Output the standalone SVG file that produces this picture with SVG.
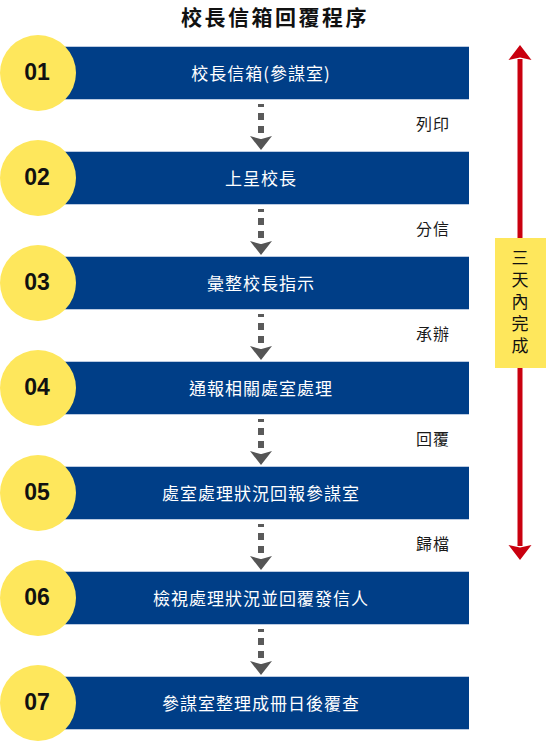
<svg xmlns="http://www.w3.org/2000/svg" width="547" height="742" viewBox="0 0 547 742">
<style>
.edge{fill:#bccbe1}
.bar{fill:#003e87}
.circ{fill:#fee75c}
.num{font-family:"Liberation Sans",Arial,sans-serif;font-weight:700;font-size:23px;fill:#111;text-anchor:middle}
.btxt{font-family:"Noto Sans CJK TC","Noto Sans",sans-serif;font-size:17px;fill:#fff;text-anchor:middle;letter-spacing:1px}
.lbl{font-family:"Noto Sans CJK TC","Noto Sans",sans-serif;font-size:16px;fill:#1a1a1a;text-anchor:middle;letter-spacing:1px}
.title{font-family:"Noto Sans CJK TC","Noto Sans",sans-serif;font-size:21px;font-weight:700;fill:#111;text-anchor:middle;letter-spacing:2.5px}
.vtxt{font-family:"Noto Sans CJK TC","Noto Sans",sans-serif;font-size:17px;fill:#111;text-anchor:middle;writing-mode:vertical-rl;letter-spacing:5px}
.dash{stroke:#5a5a5a;stroke-width:6;stroke-dasharray:7 6;stroke-dashoffset:4;fill:none;marker-end:url(#chev)}
.red{stroke:#c9000f;stroke-width:5;fill:none;marker-start:url(#redhead);marker-end:url(#redhead)}
</style>
<defs>
<marker id="chev" markerUnits="userSpaceOnUse" viewBox="-1 -12 20 24" markerWidth="20" markerHeight="24" refX="0" refY="0" orient="auto" overflow="visible">
<path d="M3,-11 L6,-0.5 L6,0.5 L3,11 L17,0 Z" fill="#555"/>
</marker>
<marker id="redhead" markerUnits="userSpaceOnUse" viewBox="-2 -12 18 24" markerWidth="18" markerHeight="24" refX="0" refY="0" orient="auto-start-reverse" overflow="visible">
<path d="M-1,-11.5 L1.5,0 L-1,11.5 L14,0 Z" fill="#c9000f"/>
</marker>
</defs>
<rect width="547" height="742" fill="#fff"/>
<text class="title" x="275" y="25">校長信箱回覆程序</text>

<g id="connectors">
<line class="dash" x1="261" y1="104" x2="261" y2="133"/>
<line class="dash" x1="261" y1="209" x2="261" y2="238"/>
<line class="dash" x1="261" y1="314" x2="261" y2="343"/>
<line class="dash" x1="261" y1="419" x2="261" y2="448"/>
<line class="dash" x1="261" y1="524" x2="261" y2="553"/>
<line class="dash" x1="261" y1="629" x2="261" y2="658"/>
<line class="red" x1="520" y1="59" x2="520" y2="546"/>
</g>

<g id="labels">
<text class="lbl" x="433" y="130">列印</text>
<text class="lbl" x="433" y="235">分信</text>
<text class="lbl" x="433" y="340">承辦</text>
<text class="lbl" x="433" y="445">回覆</text>
<text class="lbl" x="433" y="550">歸檔</text>
</g>

<g id="note">
<rect x="495" y="238" width="51" height="130" fill="#fee75c"/>
<text class="vtxt" x="520" y="304">三天內完成</text>
</g>

<g id="step01">
<rect class="edge" x="40" y="46" width="429" height="54"/>
<rect class="bar" x="40" y="47" width="429" height="52"/>
<circle class="circ" cx="38" cy="73" r="38"/>
<text class="num" x="37" y="80">01</text>
<text class="btxt" x="261" y="80">校長信箱(參謀室)</text>
</g>
<g id="step02">
<rect class="edge" x="40" y="151" width="429" height="54"/>
<rect class="bar" x="40" y="152" width="429" height="52"/>
<circle class="circ" cx="38" cy="178" r="38"/>
<text class="num" x="37" y="185">02</text>
<text class="btxt" x="261" y="185">上呈校長</text>
</g>
<g id="step03">
<rect class="edge" x="40" y="256" width="429" height="54"/>
<rect class="bar" x="40" y="257" width="429" height="52"/>
<circle class="circ" cx="38" cy="283" r="38"/>
<text class="num" x="37" y="290">03</text>
<text class="btxt" x="261" y="290">彙整校長指示</text>
</g>
<g id="step04">
<rect class="edge" x="40" y="361" width="429" height="54"/>
<rect class="bar" x="40" y="362" width="429" height="52"/>
<circle class="circ" cx="38" cy="388" r="38"/>
<text class="num" x="37" y="395">04</text>
<text class="btxt" x="261" y="395">通報相關處室處理</text>
</g>
<g id="step05">
<rect class="edge" x="40" y="466" width="429" height="54"/>
<rect class="bar" x="40" y="467" width="429" height="52"/>
<circle class="circ" cx="38" cy="493" r="38"/>
<text class="num" x="37" y="500">05</text>
<text class="btxt" x="261" y="500">處室處理狀況回報參謀室</text>
</g>
<g id="step06">
<rect class="edge" x="40" y="571" width="429" height="54"/>
<rect class="bar" x="40" y="572" width="429" height="52"/>
<circle class="circ" cx="38" cy="598" r="38"/>
<text class="num" x="37" y="605">06</text>
<text class="btxt" x="261" y="605">檢視處理狀況並回覆發信人</text>
</g>
<g id="step07">
<rect class="edge" x="40" y="676" width="429" height="54"/>
<rect class="bar" x="40" y="677" width="429" height="52"/>
<circle class="circ" cx="38" cy="703" r="38"/>
<text class="num" x="37" y="710">07</text>
<text class="btxt" x="261" y="710">參謀室整理成冊日後覆查</text>
</g>
</svg>
